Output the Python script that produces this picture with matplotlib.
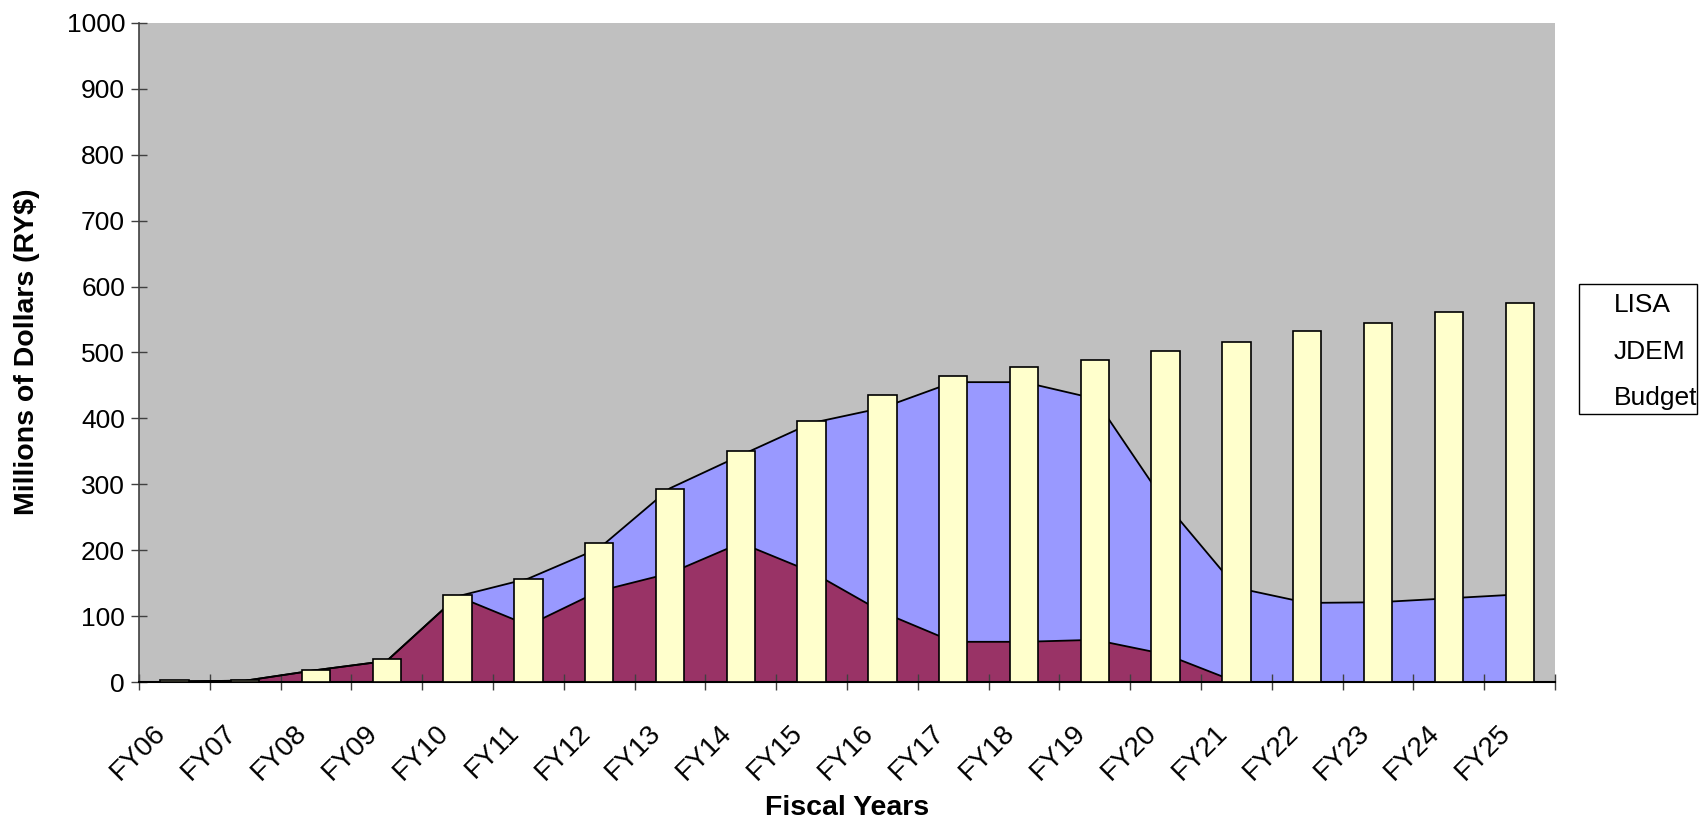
import matplotlib.pyplot as plt
import matplotlib.transforms as mtransforms
import numpy as np
from matplotlib.patches import Rectangle

plt.rcParams['font.family'] = ['Liberation Sans', 'DejaVu Sans']

years = ['FY06', 'FY07', 'FY08', 'FY09', 'FY10', 'FY11', 'FY12', 'FY13', 'FY14', 'FY15',
         'FY16', 'FY17', 'FY18', 'FY19', 'FY20', 'FY21', 'FY22', 'FY23', 'FY24', 'FY25']
jdem = [1, 2, 18, 32, 130, 86, 138, 165, 211, 167, 106, 61, 61, 64, 42, 0, 0, 0, 0, 0]
lisa = [0, 0, 0, 0, 0, 71, 65, 129, 133, 226, 310, 394, 394, 366, 229, 143, 120, 121, 127, 133]
budget = [3, 3, 18, 35, 132, 156, 211, 293, 351, 396, 435, 464, 478, 489, 502, 516, 533, 545, 561, 575]

x = np.arange(len(years))
jdem_a = np.array(jdem)
total = jdem_a + np.array(lisa)

fig = plt.figure(figsize=(17.07, 8.21), dpi=100)
ax = fig.add_axes([0.0814, 0.1693, 0.8296, 0.8027])
ax.set_facecolor('#C0C0C0')

ax.fill_between(x, 0, jdem_a, facecolor='#993366', edgecolor='none', zorder=1)
ax.fill_between(x, jdem_a, total, facecolor='#9999FF', edgecolor='none', zorder=1)
ax.plot(x, jdem_a, color='black', lw=1.3, zorder=2)
ax.plot(x, total, color='black', lw=1.3, zorder=2)

ax.bar(x, budget, width=0.4, color='#FFFFCC', edgecolor='black', linewidth=1.2, zorder=3)

ax.set_xlim(-0.5, 19.5)
ax.set_ylim(0, 1000)
ax.set_yticks(np.arange(0, 1001, 100))
ax.set_xticks(np.arange(-0.5, 20, 1))
ax.set_xticklabels([])
ax.set_xticks(x, minor=True)
ax.set_xticklabels(years, minor=True, rotation=45, ha='right', va='top',
                   rotation_mode='anchor')
ax.tick_params(axis='x', which='minor', length=0, pad=30, labelsize=20)
ax.tick_params(axis='both', which='major', direction='inout', length=12, width=1,
               color='#404040', labelsize=19)
ax.tick_params(axis='y', pad=4)
shift = mtransforms.ScaledTranslation(-0.22, 0.04, fig.dpi_scale_trans)
for lbl in ax.get_xticklabels(minor=True):
    lbl.set_transform(lbl.get_transform() + shift)

for side in ['top', 'right']:
    ax.spines[side].set_visible(False)
ax.spines['left'].set_color('#404040')
ax.spines['bottom'].set_color('black')
ax.spines['left'].set_linewidth(1.2)
ax.spines['bottom'].set_linewidth(1.5)

fig.text(0.016, 0.571, 'Millions of Dollars (RY$)', rotation=90, ha='center', va='center',
         fontsize=20.5, fontweight='bold')
fig.text(0.496, 1 - 808 / 821, 'Fiscal Years', ha='center', va='center', fontsize=20.5,
         fontweight='bold')

# legend box (text only)
fig.add_artist(Rectangle((1579 / 1707, 1 - 414 / 821), 118 / 1707, 130 / 821,
                         transform=fig.transFigure, facecolor='white', edgecolor='black', lw=1))
for lab, yy in zip(['LISA', 'JDEM', 'Budget'], [305, 352, 398]):
    fig.text(1614 / 1707, 1 - yy / 821, lab, ha='left', va='center', fontsize=19)

fig.savefig('out.png', dpi=100)
